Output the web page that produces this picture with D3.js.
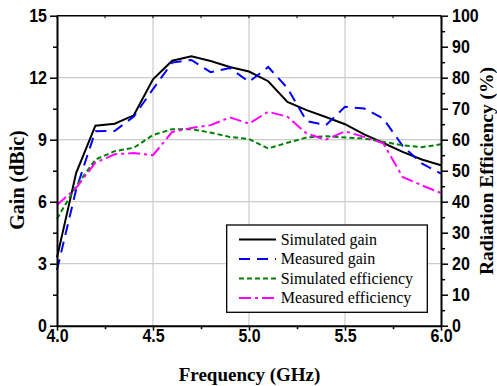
<!DOCTYPE html>
<html>
<head>
<meta charset="utf-8">
<script src="https://cdn.jsdelivr.net/npm/d3@7"></script>
<style>
  html, body { margin: 0; padding: 0; background: #fff; }
  svg { display: block; }
</style>
</head>
<body>
<svg id="chart" width="497" height="386"></svg>
<script>
// ---------------- data ----------------
const freq = [4.0, 4.1, 4.2, 4.3, 4.4, 4.5, 4.6, 4.7, 4.8, 4.9, 5.0, 5.1, 5.2, 5.3, 5.4, 5.5, 5.6, 5.7, 5.8, 5.9, 6.0];
const simGain  = [3.3, 7.4, 9.68, 9.77, 10.18, 11.92, 12.82, 13.04, 12.81, 12.52, 12.3, 11.83, 10.83, 10.43, 10.1, 9.75, 9.26, 8.84, 8.41, 8.04, 7.76];
const measGain = [2.7, 6.6, 9.41, 9.42, 10.12, 11.45, 12.73, 12.86, 12.27, 12.47, 11.8, 12.52, 11.5, 9.9, 9.7, 10.59, 10.51, 10.02, 8.7, 7.85, 7.36];
const simEff   = [34.5, 45, 53.6, 56.3, 57.4, 61.5, 63.4, 63.4, 62.3, 60.9, 60.2, 57.2, 59, 60.7, 61.1, 60.7, 60.4, 59.3, 58.2, 57.6, 58.5];
const measEff  = [38.9, 44.5, 52.6, 55.3, 55.7, 55, 62.5, 63.8, 64.7, 67.2, 65.2, 69, 67.4, 62, 60, 62.7, 60.9, 58.8, 48, 45.3, 42.8];

const xTicks = [4.0, 4.5, 5.0, 5.5, 6.0];
const xMinor = [4.25, 4.75, 5.25, 5.75];
const gainTicks = [0, 3, 6, 9, 12, 15];
const gainMinor = [1.5, 4.5, 7.5, 10.5, 13.5];
const effTicks = [0, 10, 20, 30, 40, 50, 60, 70, 80, 90, 100];
const effMinor = [5, 15, 25, 35, 45, 55, 65, 75, 85, 95];

const legendLabels = ["Simulated gain", "Measured gain", "Simulated efficiency", "Measured efficiency"];
const seriesColors = ["#000000", "#0000ff", "#008000", "#ff00ff"];
const seriesDash = [null, "11,7", "5,3", "12,4,3,4"];

// ---------------- layout ----------------
const svg = d3.select("#chart");
const L = 57, R = 441, T = 15.7, B = 325.7;
const x = d3.scaleLinear().domain([4, 6]).range([L, R]);
const yG = d3.scaleLinear().domain([0, 15]).range([B, T]);
const yE = d3.scaleLinear().domain([0, 100]).range([B, T]);
const SY = 1.12;

// gridlines
const grid = svg.append("g");
grid.selectAll("line.v").data([4.5, 5.0, 5.5]).join("line")
  .attr("x1", d => x(d)).attr("x2", d => x(d)).attr("y1", T).attr("y2", B)
  .attr("stroke", "#cccccc").attr("stroke-width", 1.2);
grid.selectAll("line.h").data([3, 6, 9, 12]).join("line")
  .attr("x1", L).attr("x2", R).attr("y1", d => yG(d)).attr("y2", d => yG(d))
  .attr("stroke", "#cccccc").attr("stroke-width", 1.2);

// series
const series = [
  {vals: simGain, y: yG},
  {vals: measGain, y: yG},
  {vals: simEff, y: yE},
  {vals: measEff, y: yE}
];
series.forEach((s, i) => {
  const line = d3.line().x((d, j) => x(freq[j])).y(d => s.y(d));
  svg.append("path").datum(s.vals)
    .attr("d", line)
    .attr("fill", "none")
    .attr("stroke", seriesColors[i])
    .attr("stroke-width", 2)
    .attr("stroke-dasharray", seriesDash[i]);
});

// axes
function styleAxis(g) {
  g.select(".domain").attr("stroke", "#000").attr("stroke-width", 2);
  g.selectAll(".tick line").attr("stroke", "#000").attr("stroke-width", 1.5);
  g.selectAll("text").attr("font-family", "'Liberation Sans', Arial, sans-serif")
    .attr("font-weight", "bold").attr("font-size", 16).attr("fill", "#000");
}

// bottom
const gx = svg.append("g").attr("transform", `translate(0,${B})`)
  .call(d3.axisBottom(x).tickValues(xTicks).tickFormat(d3.format(".1f")).tickSize(5).tickSizeOuter(0));
styleAxis(gx);
gx.selectAll("text").attr("y", 15.8 / SY).attr("dy", 0).attr("transform", `scale(1,${SY})`);
svg.append("g").attr("transform", `translate(0,${B})`)
  .call(d3.axisBottom(x).tickValues(xMinor).tickFormat("").tickSize(3.5).tickSizeOuter(0))
  .call(g => { g.select(".domain").remove(); g.selectAll("line").attr("stroke", "#000").attr("stroke-width", 1.5); });

// top frame
svg.append("line").attr("x1", L).attr("x2", R).attr("y1", T).attr("y2", T)
  .attr("stroke", "#000").attr("stroke-width", 1.6);
svg.append("g").selectAll("line").data(xTicks.concat(xMinor)).join("line")
  .attr("x1", d => x(d)).attr("x2", d => x(d)).attr("y1", T).attr("y2", T + 2.5)
  .attr("stroke", "#000").attr("stroke-width", 1);

// left
const gl = svg.append("g").attr("transform", `translate(${L},0)`)
  .call(d3.axisLeft(yG).tickValues(gainTicks).tickFormat(d3.format("d")).tickSize(7).tickSizeOuter(0));
styleAxis(gl);
gl.selectAll("text").attr("x", -10).attr("y", 6 / SY).attr("dy", 0).attr("transform", `scale(1,${SY})`);
svg.append("g").attr("transform", `translate(${L},0)`)
  .call(d3.axisLeft(yG).tickValues(gainMinor).tickFormat("").tickSize(4).tickSizeOuter(0))
  .call(g => { g.select(".domain").remove(); g.selectAll("line").attr("stroke", "#000").attr("stroke-width", 1.5); });

// right
const gr = svg.append("g").attr("transform", `translate(${R},0)`)
  .call(d3.axisRight(yE).tickValues(effTicks).tickFormat(d3.format("d")).tickSize(7).tickSizeOuter(0));
styleAxis(gr);
gr.selectAll("text").attr("x", 11).attr("y", 6 / SY).attr("dy", 0).attr("transform", `scale(1,${SY})`);
svg.append("g").attr("transform", `translate(${R},0)`)
  .call(d3.axisRight(yE).tickValues(effMinor).tickFormat("").tickSize(4).tickSizeOuter(0))
  .call(g => { g.select(".domain").remove(); g.selectAll("line").attr("stroke", "#000").attr("stroke-width", 1.5); });

// axis titles
const serif = "'Liberation Serif', 'Times New Roman', serif";
svg.append("text").attr("x", 249.5).attr("y", 380.5).attr("text-anchor", "middle")
  .attr("font-family", serif).attr("font-weight", "bold").attr("font-size", 19)
  .text("Frequency (GHz)");
svg.append("text").attr("transform", "translate(24,180) rotate(-90)").attr("text-anchor", "middle")
  .attr("font-family", serif).attr("font-weight", "bold").attr("font-size", 20)
  .text("Gain (dBic)");
svg.append("text").attr("transform", "translate(492.5,171) rotate(-90)").attr("text-anchor", "middle")
  .attr("font-family", serif).attr("font-weight", "bold").attr("font-size", 19.5)
  .text("Radiation Efficiency (%)");

// legend
const lg = svg.append("g");
lg.append("rect").attr("x", 226.7).attr("y", 225).attr("width", 200.6).attr("height", 87.3)
  .attr("fill", "#fff").attr("stroke", "#000").attr("stroke-width", 1.3);
legendLabels.forEach((lab, i) => {
  const yy = 239.5 + i * 19.5;
  lg.append("line").attr("x1", 239).attr("x2", 276).attr("y1", yy).attr("y2", yy)
    .attr("stroke", seriesColors[i]).attr("stroke-width", 2)
    .attr("stroke-dasharray", seriesDash[i]);
  lg.append("text").attr("transform", `translate(280.7,${yy + 5}) scale(1,1.1)`)
    .attr("font-family", serif).attr("font-size", 16).attr("fill", "#000")
    .text(lab);
});
</script>
</body>
</html>
